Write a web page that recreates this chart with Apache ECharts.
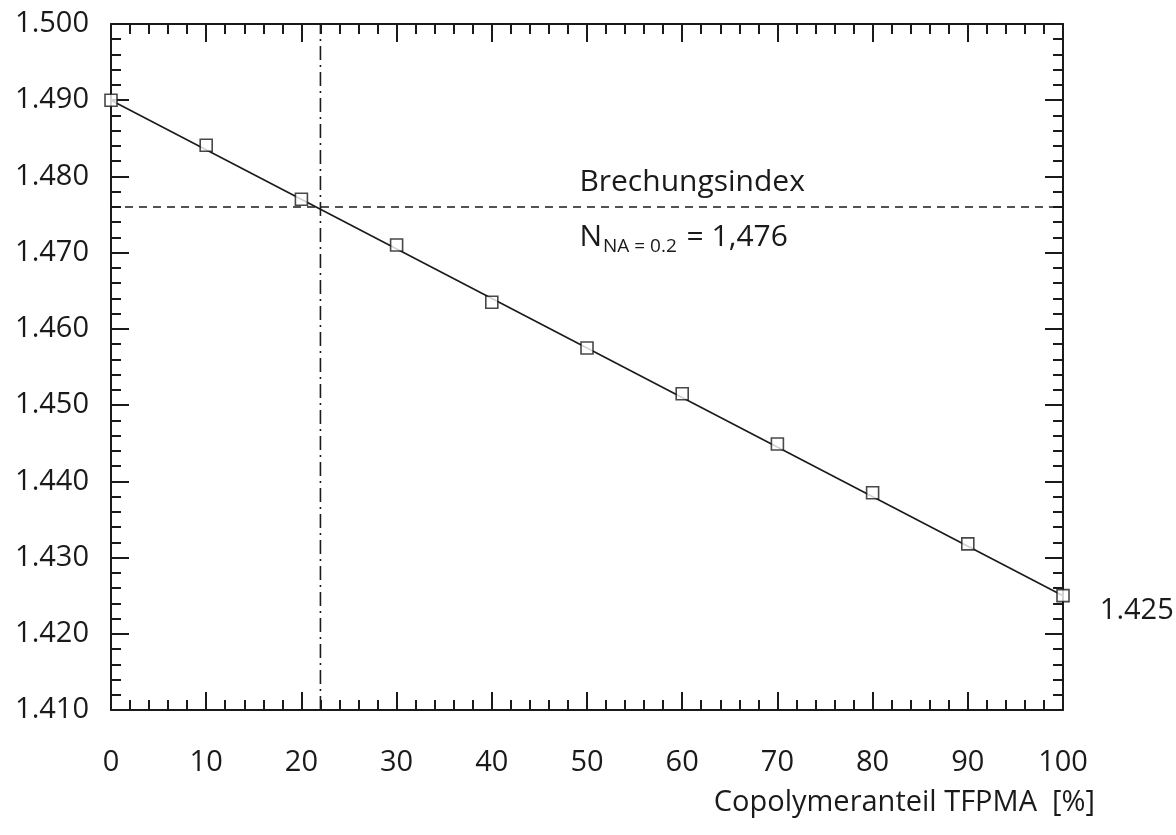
<!DOCTYPE html>
<html>
<head>
<meta charset="utf-8">
<script src="https://cdn.jsdelivr.net/npm/echarts@6/dist/echarts.min.js"></script>
<style>
  html, body { margin: 0; padding: 0; background: #fff; }
  #chart { width: 1176px; height: 835px; }
</style>
</head>
<body>
<div id="chart"></div>
<script>
// Measured refractive index vs. TFPMA copolymer share
const copolymerShare = [0, 10, 20, 30, 40, 50, 60, 70, 80, 90, 100];
const refractiveIndex = [1.4900, 1.4841, 1.4770, 1.4710, 1.4635, 1.4575, 1.4515, 1.4449, 1.4385, 1.4318, 1.4250];

// Straight fit through the measurements (end points)
const fitShare = [0, 100];
const fitIndex = [1.4900, 1.4250];

// Target index for NA = 0.2 and the share where the fit reaches it
const targetIndex = 1.476;
const targetShare = 22;

// Axis ranges
const xMin = 0, xMax = 100, xStep = 10;
const yMin = 1.410, yMax = 1.500, yStep = 0.010;

const FONT = '"Open Sans", "Noto Sans", sans-serif';
const INK = '#1a1a1a';

const chart = echarts.init(document.getElementById('chart'), null, { renderer: 'canvas' });

const frameLine = { show: true, onZero: false, lineStyle: { color: INK, width: 2 } };
const majorTick = { show: true, inside: true, length: 18, lineStyle: { color: INK, width: 2 } };
const minorTick = { show: true, splitNumber: 5, length: 10, lineStyle: { color: INK, width: 2 } };

function xAxisDef(pos, labels) {
  return {
    type: 'value', position: pos, min: xMin, max: xMax, interval: xStep,
    axisLine: frameLine, axisTick: majorTick, minorTick: minorTick,
    splitLine: { show: false },
    axisLabel: {
      show: labels, margin: 38, fontFamily: FONT, fontSize: 29, color: INK,
      formatter: v => String(Math.round(v))
    }
  };
}
function yAxisDef(pos, labels) {
  return {
    type: 'value', position: pos, min: yMin, max: yMax, interval: yStep,
    axisLine: frameLine, axisTick: majorTick, minorTick: minorTick,
    splitLine: { show: false },
    axisLabel: {
      show: labels, margin: 22, fontFamily: FONT, fontSize: 29, color: INK,
      formatter: v => v.toFixed(3)
    }
  };
}

const lastIdx = copolymerShare.length - 1;
const measured = copolymerShare.map((x, i) => {
  const item = { value: [x, refractiveIndex[i]] };
  if (i === lastIdx) {
    item.label = {
      show: true, position: 'right', distance: 30, offset: [0, 15],
      fontFamily: FONT, fontSize: 29, color: INK,
      textBorderWidth: 0, opacity: 1,
      formatter: p => p.value[1].toFixed(3)
    };
  }
  return item;
});

chart.setOption({
  animation: false,
  backgroundColor: '#ffffff',
  grid: { left: 111, right: 113, top: 24, bottom: 125, containLabel: false },
  xAxis: [xAxisDef('bottom', true), xAxisDef('top', false)],
  yAxis: [yAxisDef('left', true), yAxisDef('right', false)],
  series: [
    {
      name: 'fit', type: 'line', xAxisIndex: 0, yAxisIndex: 0,
      data: fitShare.map((x, i) => [x, fitIndex[i]]),
      showSymbol: false, symbol: 'none',
      lineStyle: { color: INK, width: 1.6 }, z: 3
    },
    {
      name: 'target', type: 'line', xAxisIndex: 0, yAxisIndex: 0,
      data: [[xMin, targetIndex], [xMax, targetIndex]],
      symbol: 'none',
      lineStyle: { color: INK, width: 1.4, type: [8, 6] }, z: 2
    },
    {
      name: 'share', type: 'line', xAxisIndex: 0, yAxisIndex: 0,
      data: [[targetShare, yMin], [targetShare, yMax]],
      symbol: 'none',
      lineStyle: { color: INK, width: 1.6, type: [14, 5, 2, 5] }, z: 2
    },
    {
      name: 'measured', type: 'scatter', xAxisIndex: 0, yAxisIndex: 0,
      data: measured,
      symbol: 'rect', symbolSize: 12,
      itemStyle: { color: '#ffffff', borderColor: INK, borderWidth: 1.6 },
      z: 4
    }
  ]
});

// Annotation text anchored in data coordinates
const anchor = chart.convertToPixel({ xAxisIndex: 0, yAxisIndex: 0 }, [49.2, targetIndex]);
const corner = chart.convertToPixel({ xAxisIndex: 0, yAxisIndex: 0 }, [xMax, yMin]);

chart.setOption({
  graphic: [
    {
      type: 'text', x: anchor[0], y: anchor[1] - 24,
      style: {
        text: 'Brechungsindex', fontFamily: FONT, fontSize: 30, fill: INK,
        align: 'left', verticalAlign: 'middle'
      }
    },
    {
      type: 'text', x: anchor[0], y: anchor[1] + 12,
      style: {
        text: '{big|N}{sub|NA = 0.2}{big| = 1,476}',
        fill: INK, align: 'left', verticalAlign: 'top',
        rich: {
          big: { fontFamily: FONT, fontSize: 30, fill: INK },
          sub: { fontFamily: FONT, fontSize: 19, fill: INK, padding: [18, 2, 0, 1] }
        }
      }
    },
    {
      type: 'text', x: corner[0] + 32, y: corner[1] + 93,
      style: {
        text: 'Copolymeranteil TFPMA  [%]', fontFamily: FONT, fontSize: 29, fill: INK,
        align: 'right', verticalAlign: 'middle'
      }
    }
  ]
});
</script>
</body>
</html>
